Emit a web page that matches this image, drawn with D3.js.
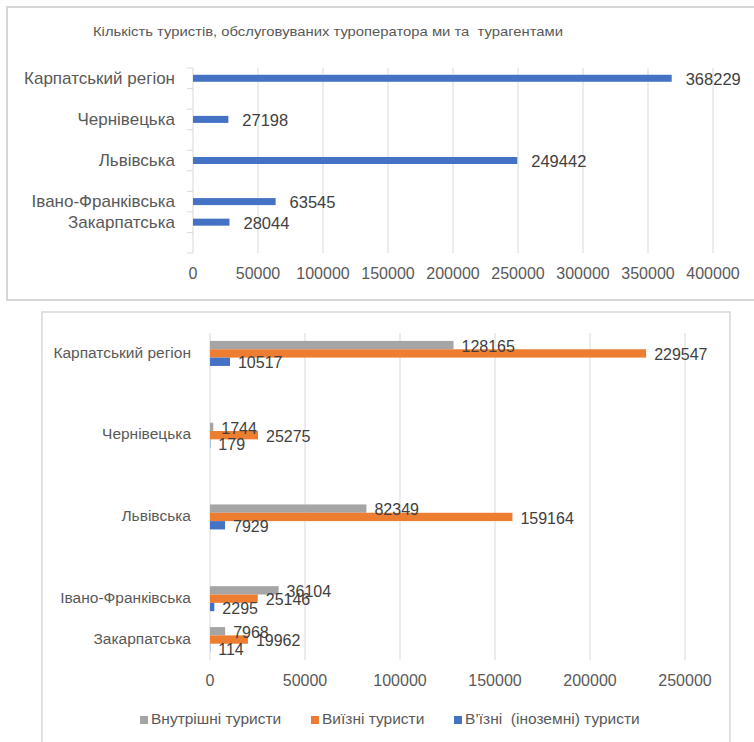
<!DOCTYPE html>
<html><head><meta charset="utf-8">
<script src="https://cdn.jsdelivr.net/npm/d3@7"></script>
<style>
html,body{margin:0;padding:0;background:#fff;}
svg{display:block;font-family:"Liberation Sans",Arial,sans-serif;}
svg text{white-space:pre;}
</style></head>
<body>
<svg id="c" width="754" height="742"></svg>
<script>
// ---------- data ----------
const categories = ["Карпатський регіон", "Чернівецька", "Львівська", "Івано-Франківська", "Закарпатська"];
const totalTourists = [368229, 27198, 249442, 63545, 28044];
const domesticTourists = [128165, 1744, 82349, 36104, 7968];
const outboundTourists = [229547, 25275, 159164, 25146, 19962];
const inboundTourists = [10517, 179, 7929, 2295, 114];
const seriesNames = ["Внутрішні туристи", "Виїзні туристи", "В’їзні  (іноземні) туристи"];
const ticks1 = [0, 50000, 100000, 150000, 200000, 250000, 300000, 350000, 400000];
const ticks2 = [0, 50000, 100000, 150000, 200000, 250000];
const title1 = "Кількість туристів, обслуговуваних туроператора ми та  турагентами";

// ---------- styles ----------
const GRID = "#d9d9d9", TXT = "#595959", VAL = "#404040";
const colors = ["#a5a5a5", "#ed7d31", "#4472c4"];
const svg = d3.select("#c");

// ================= Chart 1 =================
svg.append("rect").attr("x", 7).attr("y", 7).attr("width", 780).attr("height", 293)
  .attr("fill", "none").attr("stroke", "#d6d6d6").attr("stroke-width", 2);

svg.append("text").attr("x", 93).attr("y", 33).attr("dominant-baseline", "middle")
  .attr("font-size", 13).attr("fill", TXT)
  .attr("textLength", 470).attr("lengthAdjust", "spacingAndGlyphs").text(title1);

// slot order (Excel category rows incl. empty spacer rows)
const slots1 = [categories[0], "_g1", categories[1], "_g2", categories[2], "_g3", categories[3], categories[4], "_g4"];
const x1 = d3.scaleLinear().domain([0, 400000]).range([193, 713]);
const y1 = d3.scaleBand().domain(slots1).range([68, 253]);
const g1 = svg.append("g");

g1.selectAll("line.grid").data(ticks1).join("line")
  .attr("x1", d => x1(d)).attr("x2", d => x1(d)).attr("y1", 68).attr("y2", 253)
  .attr("stroke", GRID).attr("stroke-width", 1);
// small category tick marks on axis
g1.selectAll("line.ct").data(d3.range(slots1.length + 1)).join("line")
  .attr("x1", x1(0) - 6).attr("x2", x1(0))
  .attr("y1", i => 68 + i * y1.step()).attr("y2", i => 68 + i * y1.step())
  .attr("stroke", GRID);

g1.selectAll("text.tick").data(ticks1).join("text")
  .attr("x", d => x1(d)).attr("y", 275).attr("text-anchor", "middle").attr("dominant-baseline", "middle")
  .attr("font-size", 16).attr("fill", TXT).text(d => d);

const bh1 = 7;
g1.selectAll("rect.bar").data(categories).join("rect")
  .attr("x", x1(0)).attr("y", (d) => y1(d) + y1.bandwidth() / 2 - bh1 / 2)
  .attr("width", (d, i) => x1(totalTourists[i]) - x1(0)).attr("height", bh1)
  .attr("fill", "#4472c4");
g1.selectAll("text.cat").data(categories).join("text")
  .attr("x", 175).attr("y", d => y1(d) + y1.bandwidth() / 2 + 1).attr("text-anchor", "end").attr("dominant-baseline", "middle")
  .attr("font-size", 17).attr("fill", TXT).text(d => d);
g1.selectAll("text.val").data(categories).join("text")
  .attr("x", (d, i) => x1(totalTourists[i]) + 14).attr("y", d => y1(d) + y1.bandwidth() / 2 + 2)
  .attr("dominant-baseline", "middle").attr("font-size", 16.5).attr("fill", VAL)
  .text((d, i) => totalTourists[i]);

// ================= Chart 2 =================
svg.append("rect").attr("x", 42).attr("y", 312).attr("width", 688).attr("height", 460)
  .attr("fill", "none").attr("stroke", "#d9d9d9").attr("stroke-width", 1.5);

const slots2 = [categories[0], "_g1", categories[1], "_g2", categories[2], "_g3", categories[3], categories[4]];
const x2 = d3.scaleLinear().domain([0, 250000]).range([210, 685]);
const y2 = d3.scaleBand().domain(slots2).range([333, 660]);
const series = [domesticTourists, outboundTourists, inboundTourists];
const ys = d3.scaleBand().domain([0, 1, 2]).range([0, 25]);
const g2 = svg.append("g");

g2.selectAll("line.grid").data(ticks2).join("line")
  .attr("x1", d => x2(d)).attr("x2", d => x2(d)).attr("y1", 333).attr("y2", 660)
  .attr("stroke", GRID).attr("stroke-width", 1);
g2.selectAll("text.tick").data(ticks2).join("text")
  .attr("x", d => x2(d)).attr("y", 682).attr("text-anchor", "middle").attr("dominant-baseline", "middle")
  .attr("font-size", 16).attr("fill", TXT).text(d => d);

g2.selectAll("text.cat").data(categories).join("text")
  .attr("x", 191).attr("y", d => y2(d) + y2.bandwidth() / 2).attr("text-anchor", "end").attr("dominant-baseline", "middle")
  .attr("font-size", 15.5).attr("fill", TXT).text(d => d);

const flat = [];
categories.forEach((c, i) => series.forEach((s, k) => flat.push({ c, k, v: s[i] })));
const gy = d => y2(d.c) + y2.bandwidth() / 2 - 12.5 + ys(d.k);
g2.selectAll("rect.bar").data(flat).join("rect")
  .attr("x", x2(0)).attr("y", gy).attr("width", d => x2(d.v) - x2(0)).attr("height", ys.bandwidth())
  .attr("fill", d => colors[d.k]);
g2.selectAll("text.val").data(flat).join("text")
  .attr("x", d => x2(d.v) + 8).attr("y", d => gy(d) + ys.bandwidth() / 2 + 2.5)
  .attr("dominant-baseline", "middle").attr("font-size", 16).attr("fill", VAL).text(d => d.v);

// legend
const legX = [140, 311, 454];
const lg = g2.selectAll("g.leg").data(seriesNames).join("g").attr("transform", (d, i) => `translate(${legX[i]},720)`);
lg.append("rect").attr("x", 0).attr("y", -4).attr("width", 8).attr("height", 8).attr("fill", (d, i) => colors[i]);
lg.append("text").attr("x", 11).attr("y", 0).attr("dominant-baseline", "middle")
  .attr("font-size", 15.5).attr("fill", TXT).text(d => d);
</script>
</body></html>
